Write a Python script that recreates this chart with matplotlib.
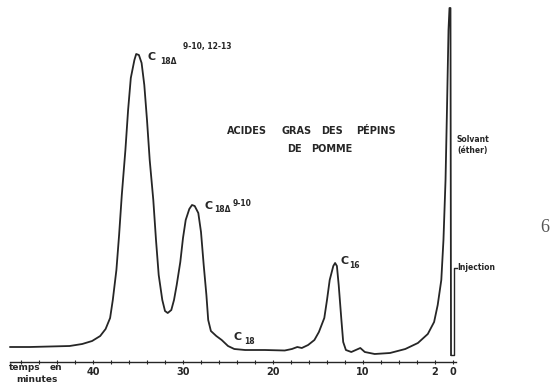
import numpy as np
import matplotlib
matplotlib.use("Agg")
import matplotlib.pyplot as plt

# chromatogram trace: retention time (min) and pen height
time_min = [49.2, 47.0, 44.8, 42.6, 41.2, 40.1, 39.2, 38.6, 38.1, 37.8,
            37.4, 37.1, 36.8, 36.4, 36.1, 35.8, 35.4, 35.2, 34.9, 34.6,
            34.3, 34.0, 33.7, 33.3, 33.0, 32.7, 32.3, 32.0, 31.7, 31.3,
            31.0, 30.7, 30.3, 30.0, 29.7, 29.3, 29.0, 28.7, 28.3, 28.0,
            27.7, 27.4, 27.2, 26.9, 26.3, 25.7, 25.0, 24.3, 23.1, 20.9,
            18.7, 17.9, 17.3, 16.8, 16.1, 15.4, 14.9, 14.3, 14.0, 13.7,
            13.3, 13.1, 12.9, 12.7, 12.4, 12.2, 11.9, 11.3, 10.8, 10.3,
            9.8, 8.7, 7.0, 5.3, 3.9, 2.8, 2.1, 1.7, 1.3, 1.06,
            0.83, 0.67, 0.5, 0.39, 0.28, 0.22]
signal = [15, 15, 15.5, 16, 18, 21, 26, 33, 44, 62,
          92, 127, 167, 212, 252, 284, 302, 308, 307, 299,
          277, 242, 202, 162, 122, 87, 62, 51, 49, 52,
          62, 77, 100, 124, 142, 153, 157, 156, 149, 130,
          97, 67, 42, 31, 26, 22, 16, 13, 12, 12,
          11.5, 13, 15, 14, 17, 22, 30, 44, 62, 82,
          96, 99, 96, 77, 42, 20, 12, 10, 12, 14,
          10, 8, 9, 13, 19, 28, 40, 57, 82, 122,
          182, 252, 332, 354, 354, 7]

# injection marker
inj_time = [0.22, -0.11, -0.11, -0.44]
inj_signal = [7, 7, 94, 94]

major_ticks = [40, 30, 20, 10, 2, 0]
major_labels = ["40", "30", "20", "10", "2", "0"]
minor_ticks = [48, 46, 44, 42, 38, 36, 34, 32, 28, 26, 24, 22, 18, 16, 14, 12, 8, 6, 4]

ink = "#262626"

# pixel helpers used only for placing the annotations
def tx(x):
    return (453 - x) / 9.0

def ty(y):
    return 362 - y

fig = plt.figure(figsize=(5.53, 3.91), dpi=100)
ax = fig.add_axes([0, 0, 1, 1])
ax.set_xlim(tx(0), tx(553))
ax.set_ylim(ty(391), ty(0))

ax.plot(time_min, signal, color=ink, lw=1.3, solid_joinstyle="round")
ax.plot(inj_time, inj_signal, color=ink, lw=1.0)

for s in ["left", "right", "top"]:
    ax.spines[s].set_visible(False)
ax.spines["bottom"].set_position(("data", 0))
ax.spines["bottom"].set_bounds(tx(10), tx(456))
ax.spines["bottom"].set_color(ink)
ax.spines["bottom"].set_linewidth(1.0)
ax.set_yticks([])
ax.set_xticks(major_ticks)
ax.set_xticklabels(major_labels, fontsize=7, fontweight="bold", color=ink)
ax.set_xticks(minor_ticks, minor=True)
ax.tick_params(axis="x", which="both", direction="inout", length=3, width=0.8,
               color=ink, pad=2)

def put(x, y, s, size, **kw):
    kw.setdefault("fontweight", "bold")
    kw.setdefault("ha", "center")
    kw.setdefault("color", ink)
    ax.text(tx(x), ty(y), s, fontsize=size, va="center", **kw)

# peak labels
put(152, 57, "C", 8)
put(168, 61, "18\u0394", 5.5)
put(207, 46, "9-10, 12-13", 5.5)
put(209, 206, "C", 8)
put(222, 210, "18\u0394", 5.5)
put(242, 203, "9-10", 5.5)
put(238, 337, "C", 8)
put(249, 342, "18", 5.5)
put(345, 261, "C", 8)
put(354, 266, "16", 5.5)

# title
put(247, 131, "ACIDES", 7)
put(297, 131, "GRAS", 7)
put(332, 131, "DES", 7)
put(376, 131, "P\u00c9PINS", 7)
put(294, 149, "DE", 7)
put(332, 149, "POMME", 7)

# side notes
put(473, 140, "Solvant", 5.5)
put(473, 150, "(\u00e9ther)", 5.5)
put(457, 268, "Injection", 5.5, ha="left")
put(25, 368, "temps", 6.5)
put(56, 368, "en", 6.5)
put(37, 380, "minutes", 6.5)
put(545, 228, "6", 13, fontweight="normal", family="Liberation Serif", color="#555555")

fig.savefig("out.png", dpi=100, facecolor="white")
